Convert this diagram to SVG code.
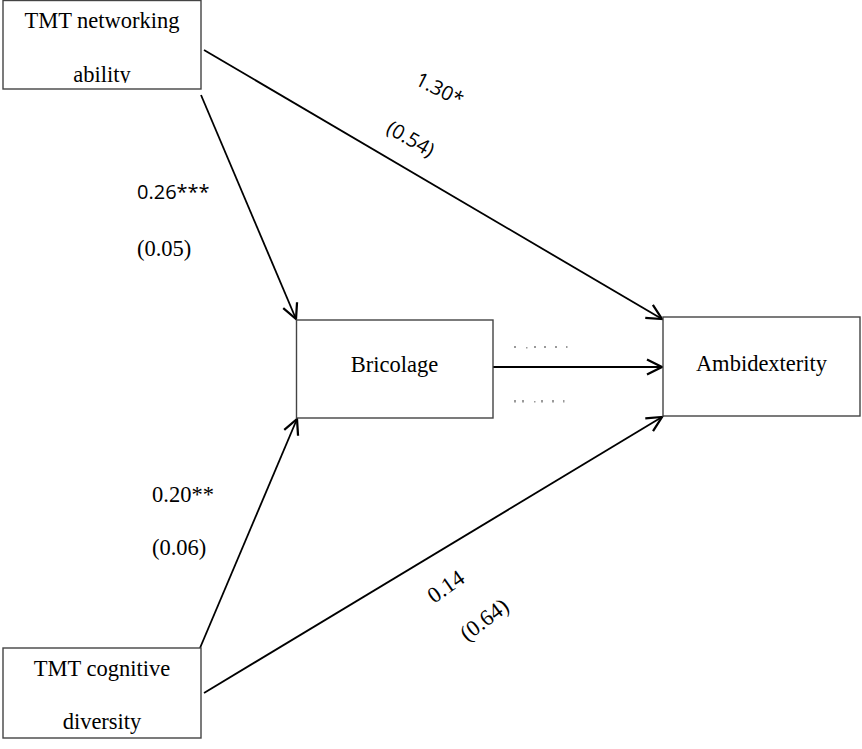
<svg xmlns="http://www.w3.org/2000/svg" width="862" height="749" viewBox="0 0 862 749">
<style>
.box{fill:#fff;stroke:#444;stroke-width:1.4}
.t{font-family:"Liberation Serif","Times New Roman",serif;font-size:22.5px;fill:#000;text-anchor:middle}
.s{font-family:"Open Sans","Liberation Sans",sans-serif;font-size:20px;fill:#000}
.sr{font-family:"Liberation Serif","Times New Roman",serif;font-size:22.5px;fill:#000}
.c{stroke:#000;stroke-width:1.8;fill:none}
.dot{fill:#9a9a9a}
</style>
<defs>
<marker id="ah" markerUnits="userSpaceOnUse" markerWidth="20" markerHeight="20" viewBox="-14 -8 16 16" refX="0" refY="0" orient="auto">
<path d="M-12,-6 L0,0 L-12,6" fill="none" stroke="#000" stroke-width="1.8"/>
</marker>
<clipPath id="clip1"><rect x="0" y="0" width="205" height="83"/></clipPath>
</defs>
<rect width="862" height="749" fill="#fff"/>
<g id="connectors">
<line class="c" x1="204" y1="50" x2="662" y2="319" marker-end="url(#ah)"/>
<line class="c" x1="201" y1="95" x2="296" y2="319" marker-end="url(#ah)"/>
<line class="c" x1="493" y1="367" x2="662" y2="367" marker-end="url(#ah)"/>
<line class="c" x1="200" y1="648" x2="297" y2="419" marker-end="url(#ah)"/>
<line class="c" x1="204" y1="693" x2="662" y2="417" marker-end="url(#ah)"/>
</g>
<g id="networking">
<rect class="box" x="3" y="0.5" width="198" height="88.5"/>
<text class="t" x="102" y="28">TMT networking</text>
<text class="t" x="102" y="82" clip-path="url(#clip1)">ability</text>
</g>
<g id="bricolage">
<rect class="box" x="296.5" y="320" width="196.5" height="98"/>
<text class="t" x="394.5" y="372">Bricolage</text>
</g>
<g id="ambidexterity">
<rect class="box" x="663" y="317" width="197" height="99"/>
<text class="t" x="761.5" y="371">Ambidexterity</text>
</g>
<g id="cognitive">
<rect class="box" x="3" y="648" width="198" height="90"/>
<text class="t" x="102" y="676">TMT cognitive</text>
<text class="t" x="102" y="729">diversity</text>
</g>
<g id="labels">
<text class="s" font-size="19" transform="translate(414,84) rotate(27)">1.30*</text>
<text class="s" font-size="19" transform="translate(385,132) rotate(30)">(0.54)</text>
<text class="s" x="137" y="199">0.26***</text>
<text class="sr" x="137" y="256">(0.05)</text>
<text class="sr" x="152" y="502">0.20**</text>
<text class="sr" x="152" y="555">(0.06)</text>
<text class="sr" transform="translate(434,604) rotate(-35)">0.14</text>
<text class="sr" transform="translate(467,642) rotate(-37)">(0.64)</text>
</g>
<g id="dots">
<rect class="dot" x="514" y="346" width="2" height="2"/>
<rect class="dot" x="526" y="347" width="1.5" height="1.5"/>
<rect class="dot" x="534" y="346" width="2" height="2"/>
<rect class="dot" x="544" y="346" width="2" height="2"/>
<rect class="dot" x="555" y="346" width="2" height="2"/>
<rect class="dot" x="566" y="346" width="1.5" height="2"/>
<rect class="dot" x="514" y="400" width="2" height="2.5"/>
<rect class="dot" x="522" y="400" width="2" height="2.5"/>
<rect class="dot" x="534" y="401" width="1.5" height="1.5"/>
<rect class="dot" x="541" y="400" width="2" height="2.5"/>
<rect class="dot" x="552" y="400" width="2" height="2.5"/>
<rect class="dot" x="563" y="400" width="1.5" height="2.5"/>
</g>
</svg>
